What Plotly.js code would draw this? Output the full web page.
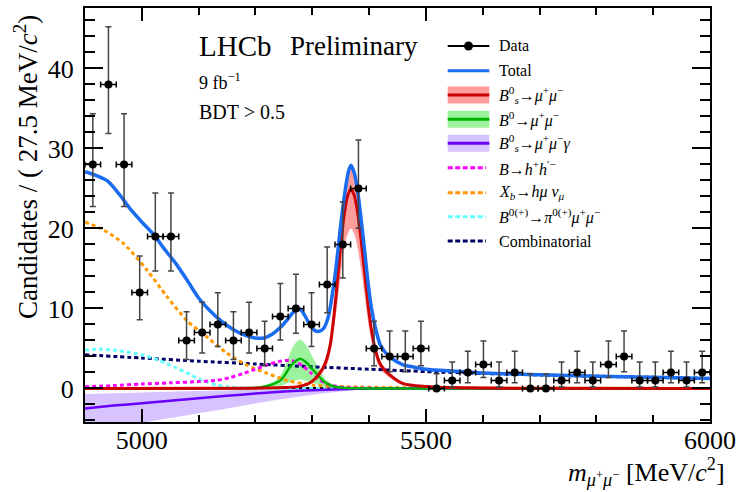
<!DOCTYPE html>
<html><head><meta charset="utf-8">
<script src="https://cdn.plot.ly/plotly-3.0.1.min.js"></script>
<style>html,body{margin:0;padding:0;background:#fff}</style>
</head><body><div id="chart" style="width:738px;height:492px"></div>
<script>
// ---------- data ----------
const binCenters = [4913.75,4941.25,4968.75,4996.25,5023.75,5051.25,5078.75,5106.25,5133.75,5161.25,
  5188.75,5216.25,5243.75,5271.25,5298.75,5326.25,5353.75,5381.25,5408.75,5436.25,
  5463.75,5491.25,5518.75,5546.25,5573.75,5601.25,5628.75,5656.25,5683.75,5711.25,
  5738.75,5766.25,5793.75,5821.25,5848.75,5876.25,5903.75,5931.25,5958.75,5986.25];
const counts = [28,38,28,12,19,19,6,7,8,6,7,5,9,10,8,13,18,25,5,4,4,5,0,1,2,3,1,2,0,0,1,2,1,3,4,1,1,2,1,2];
const errUp = [6.34,7.22,6.34,4.55,5.42,5.42,3.58,3.77,3.95,3.58,3.77,3.38,4.11,4.26,3.95,4.69,5.30,6.06,3.38,3.16,
  3.16,3.38,1.84,2.30,2.64,2.92,2.30,2.64,1.84,1.84,2.30,2.64,2.30,2.92,3.16,2.30,2.30,2.64,2.30,2.64];
const errDown = [5.26,6.14,5.26,3.41,4.32,4.32,2.38,2.58,2.77,2.38,2.58,2.16,2.94,3.11,2.77,3.55,4.20,4.97,2.16,1.91,
  1.91,2.16,0,0.83,1.29,1.63,0.83,1.29,0,0,0.83,1.29,0.83,1.63,1.91,0.83,0.83,1.29,0.83,1.29];
const binHalfWidth = 13.75;

const totalX = [4900,4920,4940,4960,4980,5000,5020,5040,5060,5080,5100,5120,5140,5160,5180,5200,5215,5230,5245,5255,5265,5273,5280,5287,5295,5303,5311,5320,5328,5335,5342,5350,5358,5364,5368,5374,5380,5386,5392,5398,5404,5412,5420,5437,5460,5480,5500,5550,5600,5700,5800,5900,6000];
const totalY = [27.1,26.6,25.9,24.3,22.4,20.8,19.3,17.4,15.6,13.5,11.3,9.7,8.4,7.4,6.7,6.3,6.3,6.8,7.7,8.5,9.4,9.9,9.8,9.1,8.0,7.3,7.1,7.5,8.9,11.6,15.2,20.4,24.8,27.2,27.9,26.9,24.6,21.1,17.3,13.3,10.1,7.3,5.4,3.9,2.95,2.65,2.4,2.15,1.93,1.7,1.53,1.38,1.25];

const bsX = [4900,5200,5250,5275,5290,5300,5310,5320,5326,5332,5338,5344,5350,5356,5362,5368,5374,5380,5386,5392,5398,5404,5412,5420,5437,5460,5500,5550,5650,6000];
const bsY = [0,0.03,0.1,0.22,0.5,0.9,1.6,2.7,3.8,5.6,9.0,13.2,17.8,21.6,24.0,24.9,24.1,21.9,18.5,14.6,10.6,7.4,4.6,3.0,1.66,0.6,0.25,0.1,0.03,0];
const bsBandX = [5250,5290,5310,5320,5326,5332,5338,5344,5350,5356,5362,5368,5374,5380,5386,5392,5398,5404,5412,5420,5437,5460,5500];
const bsBandLo = [0.08,0.4,1.3,2.2,3.0,4.5,7.2,10.6,14.2,17.3,19.2,20.0,19.3,17.5,14.8,11.7,8.5,5.9,3.7,2.4,1.3,0.5,0.2];
const bsBandHi = [0.11,0.56,1.8,3.0,4.3,6.3,10.1,14.8,19.9,24.2,26.9,27.9,27.0,24.5,20.7,16.4,11.9,8.3,5.2,3.4,1.9,0.7,0.28];

const bdX = [4900,5180,5210,5230,5244,5253,5261,5270,5279,5287,5293,5300,5308,5317,5326,5340,5360,5400,6000];
const bdY = [0,0.03,0.15,0.5,1.0,1.8,2.7,3.4,3.7,3.4,3.0,2.4,1.8,1.1,0.6,0.2,0.05,0,0];
const bdBandX = [5200,5230,5244,5253,5261,5270,5279,5287,5293,5300,5308,5317,5326,5340,5360];
const bdBandLo = [0.01,0.15,0.3,0.55,0.8,1.0,1.1,1.0,0.9,0.7,0.55,0.33,0.18,0.06,0.01];
const bdBandHi = [0.1,0.8,1.65,2.95,4.45,5.6,6.1,5.6,4.95,3.95,2.95,1.8,1.0,0.33,0.08];

const gamX = [4900,4950,5000,5050,5100,5150,5200,5250,5300,5350,5380,5420,6000];
const gamY = [-2.5,-2.15,-1.85,-1.55,-1.22,-0.92,-0.65,-0.4,-0.22,-0.12,-0.05,0,0];
const gamBandX = [4900,4950,5000,5050,5100,5150,5200,5250,5300,5350,5400];
const gamBandLo = [-5.5,-4.9,-4.3,-3.7,-3.1,-2.5,-1.9,-1.3,-0.8,-0.4,-0.05];
const gamBandHi = [-0.7,-0.6,-0.5,-0.42,-0.34,-0.26,-0.18,-0.11,-0.06,-0.03,0];

const hhX = [4900,4950,5000,5050,5100,5130,5155,5180,5200,5220,5240,5258,5272,5285,5298,5310,5322,5335,5355,5380,5420,6000];
const hhY = [0.2,0.35,0.55,0.7,0.85,1.0,1.35,1.9,2.4,2.9,3.35,3.5,3.3,2.7,1.9,1.2,0.7,0.35,0.12,0.05,0,0];

const xbX = [4900,4933,4968,5009,5044,5079,5115,5150,5185,5220,5255,5302,5360,5450,5600,6000];
const xbY = [20.8,19.8,18.1,14.8,11.5,8.5,6.4,4.4,2.9,1.9,1.0,0.4,0.2,0.1,0.03,0];

const pimmX = [4900,4930,4960,5000,5030,5060,5080,5100,5115,5130,5150,5180,5220,6000];
const pimmY = [4.8,4.9,4.7,4.2,3.5,2.6,1.9,1.2,0.8,0.45,0.2,0.05,0,0];

const combX = [4900,5000,5100,5200,5300,5400,5500,5600,5700,5800,5900,6000];
const combY = [4.2,3.8,3.4,3.05,2.7,2.4,2.1,1.87,1.68,1.52,1.38,1.25];

const legendLabels = [
  'Data',
  'Total',
  '<i>B</i><sup>0</sup><sub><i>s</i></sub>→<i>μ</i><sup>+</sup><i>μ</i><sup>−</sup>',
  '<i>B</i><sup>0</sup>→<i>μ</i><sup>+</sup><i>μ</i><sup>−</sup>',
  '<i>B</i><sup>0</sup><sub><i>s</i></sub>→<i>μ</i><sup>+</sup><i>μ</i><sup>−</sup><i>γ</i>',
  '<i>B</i>→<i>h</i><sup>+</sup><i>h</i><sup>′−</sup>',
  '<i>X</i><sub><i>b</i></sub>→<i>hμ ν</i><sub><i>μ</i></sub>',
  '<i>B</i><sup>0(+)</sup>→<i>π</i><sup>0(+)</sup><i>μ</i><sup>+</sup><i>μ</i><sup>−</sup>',
  'Combinatorial'
];

// ---------- styling ----------
const SERIF = 'Liberation Serif';
const C = {
  total:'#1a6cf0', bs:'#cc0000', bsBand:'rgba(255,140,140,0.85)',
  bd:'#00b300', bdBand:'rgba(140,240,140,0.85)',
  gam:'#6a00ff', gamBand:'rgba(200,175,255,0.75)',
  hh:'#ff00ff', xb:'#ff9900', pimm:'#66ffff', comb:'#000066'
};
const DASH = '4px,3px';

function band(x, lo, hi, color) {
  return [
    {x:x, y:lo, type:'scatter', mode:'lines', line:{width:0, shape:'spline', color:color}, hoverinfo:'skip'},
    {x:x, y:hi, type:'scatter', mode:'lines', fill:'tonexty', fillcolor:color, line:{width:0, shape:'spline', color:color}, hoverinfo:'skip'}
  ];
}
function curve(x, y, color, width, dash) {
  return {x:x, y:y, type:'scatter', mode:'lines', line:{color:color, width:width, dash:dash||'solid', shape:'spline', smoothing:0.7}, hoverinfo:'skip'};
}

const traces = [].concat(
  band(gamBandX, gamBandLo, gamBandHi, C.gamBand),
  band(bdBandX, bdBandLo, bdBandHi, C.bdBand),
  band(bsBandX, bsBandLo, bsBandHi, C.bsBand),
  [
    curve(combX, combY, C.comb, 3, DASH),
    curve(pimmX, pimmY, C.pimm, 3, DASH),
    curve(xbX, xbY, C.xb, 3, DASH),
    curve(hhX, hhY, C.hh, 3, DASH),
    curve(gamX, gamY, C.gam, 2.5),
    curve(bdX, bdY, C.bd, 2.5),
    curve(bsX, bsY, C.bs, 3),
    curve(totalX, totalY, C.total, 3.5),
    {x:binCenters, y:counts, type:'scatter', mode:'markers',
     marker:{color:'black', size:8},
     error_y:{type:'data', symmetric:false, array:errUp, arrayminus:errDown, color:'#444', thickness:1.5, width:3},
     error_x:{type:'constant', value:binHalfWidth, color:'black', thickness:1.5, width:3}}
  ]
);

// pixel -> paper helpers for overlay text/legend
const PL=85, PR=710, PT=8, PB=422;
const px = v => (v-PL)/(PR-PL);
const py = v => (PB-v)/(PB-PT);

const ann = [];
ann.push({text:'LHCb', x:px(197), y:py(46), xanchor:'left', yanchor:'middle', font:{size:29}});
ann.push({text:'Preliminary', x:px(288), y:py(46), xanchor:'left', yanchor:'middle', font:{size:27}});
ann.push({text:'9 fb<sup>−1</sup>', x:px(197), y:py(81), xanchor:'left', yanchor:'middle', font:{size:18}});
ann.push({text:'BDT > 0.5', x:px(197), y:py(112), xanchor:'left', yanchor:'middle', font:{size:20}});
ann.push({text:'Candidates / ( 27.5 MeV/<i>c</i><sup>2</sup>)', textangle:-90, x:px(26), y:py(167), xanchor:'center', yanchor:'middle', font:{size:27}});
ann.push({text:'<i>m</i><sub><i>μ</i><sup>+</sup><i>μ</i><sup>−</sup></sub> [MeV/<i>c</i><sup>2</sup>]', x:px(727), y:py(472), xanchor:'right', yanchor:'middle', font:{size:26}});

const rows = [46,70.7,95,119.3,143.3,167.7,192.7,216.7,241];
legendLabels.forEach((t,i)=>{
  ann.push({text:t, x:px(497), y:py(rows[i]), xanchor:'left', yanchor:'middle', font:{size:16}});
});
ann.forEach(a=>{a.xref='paper'; a.yref='paper'; a.showarrow=false; a.font = Object.assign({family:SERIF, color:'black'}, a.font);});

const LX0=447.7, LX1=489.3;
const shapes = [];
function lshape(o){ o.xref='paper'; o.yref='paper'; shapes.push(o); }
lshape({type:'line', x0:px(LX0), x1:px(LX1), y0:py(rows[0]), y1:py(rows[0]), line:{color:'black', width:2}});
lshape({type:'circle', x0:px(468.5-4.5), x1:px(468.5+4.5), y0:py(rows[0]-4.5), y1:py(rows[0]+4.5), fillcolor:'black', line:{color:'black', width:0}});
lshape({type:'line', x0:px(LX0), x1:px(LX1), y0:py(rows[1]), y1:py(rows[1]), line:{color:C.total, width:3}});
[[2,C.bsBand,C.bs],[3,C.bdBand,C.bd],[4,C.gamBand,C.gam]].forEach(([r,f,l])=>{
  lshape({type:'rect', x0:px(LX0), x1:px(LX1), y0:py(rows[r]-8.5), y1:py(rows[r]+8.5), fillcolor:f, line:{width:0}});
  lshape({type:'line', x0:px(LX0), x1:px(LX1), y0:py(rows[r]), y1:py(rows[r]), line:{color:l, width:3}});
});
[[5,C.hh],[6,C.xb],[7,C.pimm],[8,C.comb]].forEach(([r,l])=>{
  lshape({type:'line', x0:px(LX0), x1:px(486), y0:py(rows[r]), y1:py(rows[r]), line:{color:l, width:3, dash:'5px,2.5px'}});
});

const layout = {
  width:738, height:492,
  margin:{l:PL, r:738-PR, t:PT, b:492-PB, pad:0},
  paper_bgcolor:'white', plot_bgcolor:'white', showlegend:false,
  font:{family:SERIF, color:'black', size:16},
  xaxis:{
    range:[4900,6000], tick0:5000, dtick:500, ticklen:13, zeroline:false, ticklabelstandoff:-6,
    showline:true, linewidth:2, linecolor:'black', mirror:'allticks',
    ticks:'inside', tickwidth:2, tickcolor:'black', showgrid:false,
    tickfont:{family:SERIF, size:26, color:'black'},
    minor:{tick0:4900, dtick:100, ticks:'inside', ticklen:7, tickwidth:2, tickcolor:'black', showgrid:false}
  },
  yaxis:{
    range:[-4.2,47.55], tick0:0, dtick:10, ticklen:18, ticklabelstandoff:4,
    showline:true, linewidth:2, linecolor:'black', mirror:'allticks',
    ticks:'inside', tickwidth:2, tickcolor:'black', showgrid:false,
    tickfont:{family:SERIF, size:26, color:'black'},
    zeroline:true, zerolinecolor:'black', zerolinewidth:2,
    minor:{tick0:0, dtick:2, ticks:'inside', ticklen:10, tickwidth:2, tickcolor:'black', showgrid:false}
  },
  annotations:ann,
  shapes:shapes
};
Plotly.newPlot('chart', traces, layout, {staticPlot:true, displayModeBar:false});
</script>
</body></html>
